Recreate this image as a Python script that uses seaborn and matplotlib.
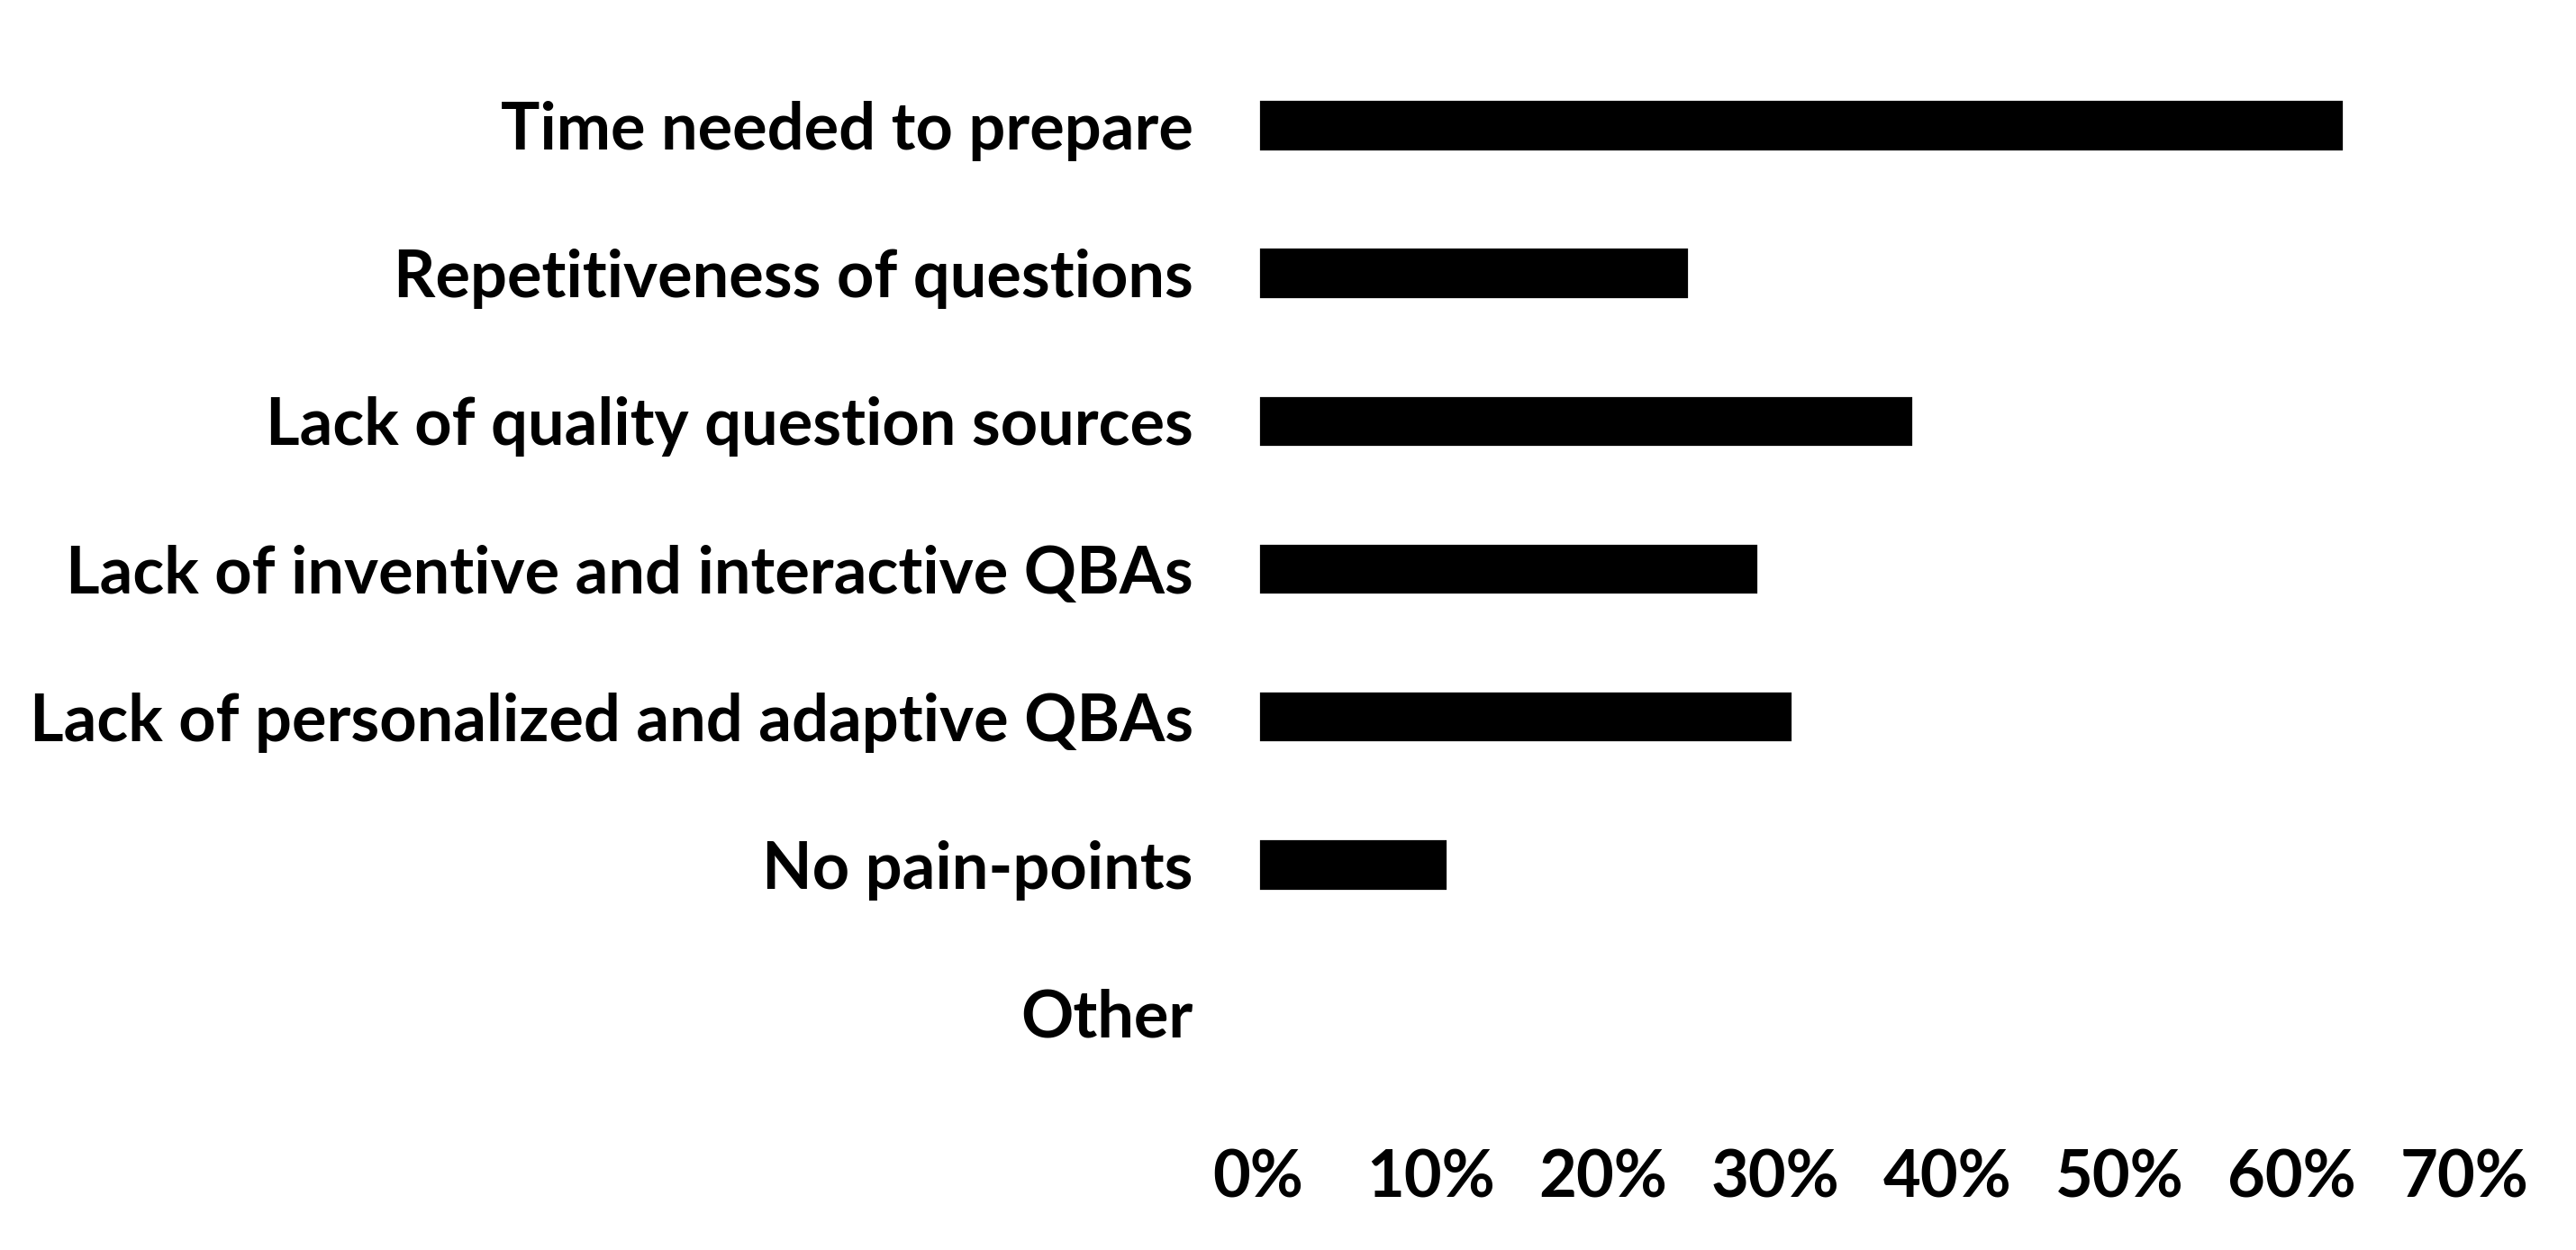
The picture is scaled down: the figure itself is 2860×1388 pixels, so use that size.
import matplotlib
matplotlib.use("Agg")
import matplotlib.pyplot as plt
import seaborn as sns
import pandas as pd
from matplotlib.ticker import FuncFormatter

categories = [
    "Time needed to prepare",
    "Repetitiveness of questions",
    "Lack of quality question sources",
    "Lack of inventive and interactive QBAs",
    "Lack of personalized and adaptive QBAs",
    "No pain-points",
    "Other",
]
values = [63, 25, 38, 29, 31, 11, 0]
xticks = [0, 10, 20, 30, 40, 50, 60, 70]

sns.set_theme(style="white")
plt.rcParams['font.family'] = ['Lato', 'DejaVu Sans']
plt.rcParams['font.weight'] = 'bold'

df = pd.DataFrame({"cat": categories, "val": values})

fig = plt.figure(figsize=(14.3, 6.94), dpi=200)
ax = fig.add_axes([0.4885, 0.131, 0.9566 - 0.4885, 0.959 - 0.131])
sns.barplot(data=df, x="val", y="cat", color="black", width=0.35,
            saturation=1, ax=ax, orient="h")
ax.set_xlim(0, 70)
ax.set_ylim(6.5, -0.5)
ax.set_xticks(xticks)
ax.xaxis.set_major_formatter(FuncFormatter(lambda v, p: f"{int(v)}%"))
ax.set_xlabel("")
ax.set_ylabel("")
for s in ax.spines.values():
    s.set_visible(False)
ax.tick_params(axis="x", length=0, pad=25, labelsize=26)
ax.tick_params(axis="y", length=0, pad=26, labelsize=26)
for lab in ax.get_xticklabels() + ax.get_yticklabels():
    lab.set_fontweight("bold")
    lab.set_color("black")
fig.savefig("out.png", dpi=200, facecolor="white")
